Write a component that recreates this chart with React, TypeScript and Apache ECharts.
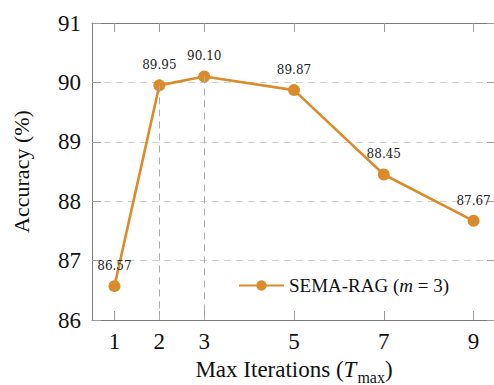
import React, { useEffect, useRef } from "react";
import * as echarts from "echarts";

const iterations = [1, 2, 3, 5, 7, 9];
const accuracy = [86.57, 89.95, 90.1, 89.87, 88.45, 87.67];
const xTickValues = [1, 2, 3, 5, 7, 9];
const dropLineIterations = [2, 3];
const seriesName = "SEMA-RAG (m = 3)";
const yMin = 86;
const yMax = 91;
const xMin = 0.5;
const xMax = 9.5;

const SERIF = "Liberation Serif";
const LABEL_FONT = "DejaVu Serif";
const ORANGE = "#DA8C2C";
const FRAME = "#7a7a7a";
const TICK = "#9a9a9a";

export default function App() {
  const ref = useRef<HTMLDivElement>(null);
  useEffect(() => {
    if (!ref.current) return;
    const chart = echarts.init(ref.current, undefined, { renderer: "svg" });
    const data = iterations.map((x, i) => [x, accuracy[i]]);
    const dropLines = dropLineIterations.map((it) => {
      const v = accuracy[iterations.indexOf(it)];
      return [{ coord: [it, v] }, { coord: [it, yMin] }];
    });
    chart.setOption({
      animation: false,
      textStyle: { fontFamily: SERIF },
      grid: { left: 92, top: 23, width: 404, height: 297, outerBoundsMode: "none", containLabel: false },
      legend: {
        left: 238,
        top: 276,
        padding: 0,
        itemWidth: 45,
        itemHeight: 13,
        data: [seriesName],
        formatter: () => "{a|SEMA-RAG (}{i|m}{a| = 3)}",
        textStyle: {
          fontFamily: SERIF,
          fontSize: 19,
          color: "#111",
          rich: {
            a: { fontFamily: SERIF, fontSize: 19, color: "#111" },
            i: { fontFamily: SERIF, fontSize: 19, fontStyle: "italic", color: "#111" },
          },
        },
      },
      xAxis: [
        {
          type: "value",
          min: xMin,
          max: xMax,
          position: "bottom",
          name: "{a|Max Iterations (}{i|T}{s|max}{a|)}",
          nameLocation: "middle",
          nameGap: 33,
          nameTextStyle: {
            fontFamily: SERIF,
            fontSize: 23,
            color: "#111",
            rich: {
              a: { fontFamily: SERIF, fontSize: 23, color: "#111" },
              i: { fontFamily: SERIF, fontSize: 23, fontStyle: "italic", color: "#111" },
              s: { fontFamily: SERIF, fontSize: 16, color: "#111", padding: [16, 0, 0, 1] },
            },
          },
          axisLine: { show: true, lineStyle: { color: FRAME, width: 1 } },
          axisTick: {
            show: true,
            inside: true,
            length: 9,
            customValues: xTickValues,
            lineStyle: { color: TICK, width: 1 },
          },
          axisLabel: {
            customValues: xTickValues,
            fontFamily: SERIF,
            fontSize: 23,
            color: "#111",
            margin: 10,
          },
          splitLine: { show: false },
        },
        {
          type: "value",
          min: xMin,
          max: xMax,
          position: "top",
          axisLine: { show: true, lineStyle: { color: FRAME, width: 1 } },
          axisTick: {
            show: true,
            inside: true,
            length: 9,
            customValues: xTickValues,
            lineStyle: { color: TICK, width: 1 },
          },
          axisLabel: { show: false },
          splitLine: { show: false },
        },
      ],
      yAxis: [
        {
          type: "value",
          min: yMin,
          max: yMax,
          interval: 1,
          position: "left",
          name: "Accuracy (%)",
          nameLocation: "middle",
          nameGap: 60,
          nameTextStyle: { fontFamily: SERIF, fontSize: 22, color: "#111" },
          axisLine: { show: true, lineStyle: { color: FRAME, width: 1 } },
          axisTick: { show: true, inside: true, length: 9, lineStyle: { color: TICK, width: 1 } },
          axisLabel: { fontFamily: SERIF, fontSize: 23, color: "#111", margin: 11 },
          splitLine: { show: true, lineStyle: { color: "#d0d0d0", type: [7, 5], width: 1 } },
        },
        {
          type: "value",
          min: yMin,
          max: yMax,
          interval: 1,
          position: "right",
          axisLine: { show: true, lineStyle: { color: FRAME, width: 1 } },
          axisTick: { show: true, inside: true, length: 9, lineStyle: { color: TICK, width: 1 } },
          axisLabel: { show: false },
          splitLine: { show: false },
        },
      ],
      series: [
        {
          name: seriesName,
          type: "line",
          xAxisIndex: 0,
          yAxisIndex: 0,
          data,
          symbol: "circle",
          symbolSize: 12,
          lineStyle: { color: ORANGE, width: 2.6 },
          itemStyle: { color: ORANGE },
          label: {
            show: true,
            position: "top",
            distance: 8,
            fontFamily: LABEL_FONT,
            fontSize: 12,
            color: "#222",
            formatter: (p: any) => Number(p.value[1]).toFixed(2),
          },
          markLine: {
            silent: true,
            symbol: ["none", "none"],
            label: { show: false },
            lineStyle: { color: "#ababab", type: [7, 5], width: 1 },
            emphasis: { disabled: true },
            data: dropLines,
          },
          z: 3,
        },
      ],
    });
    return () => chart.dispose();
  }, []);
  return (
    <div
      ref={ref}
      style={{ position: "absolute", left: 0, top: 0, width: 494, height: 385 }}
    />
  );
}
